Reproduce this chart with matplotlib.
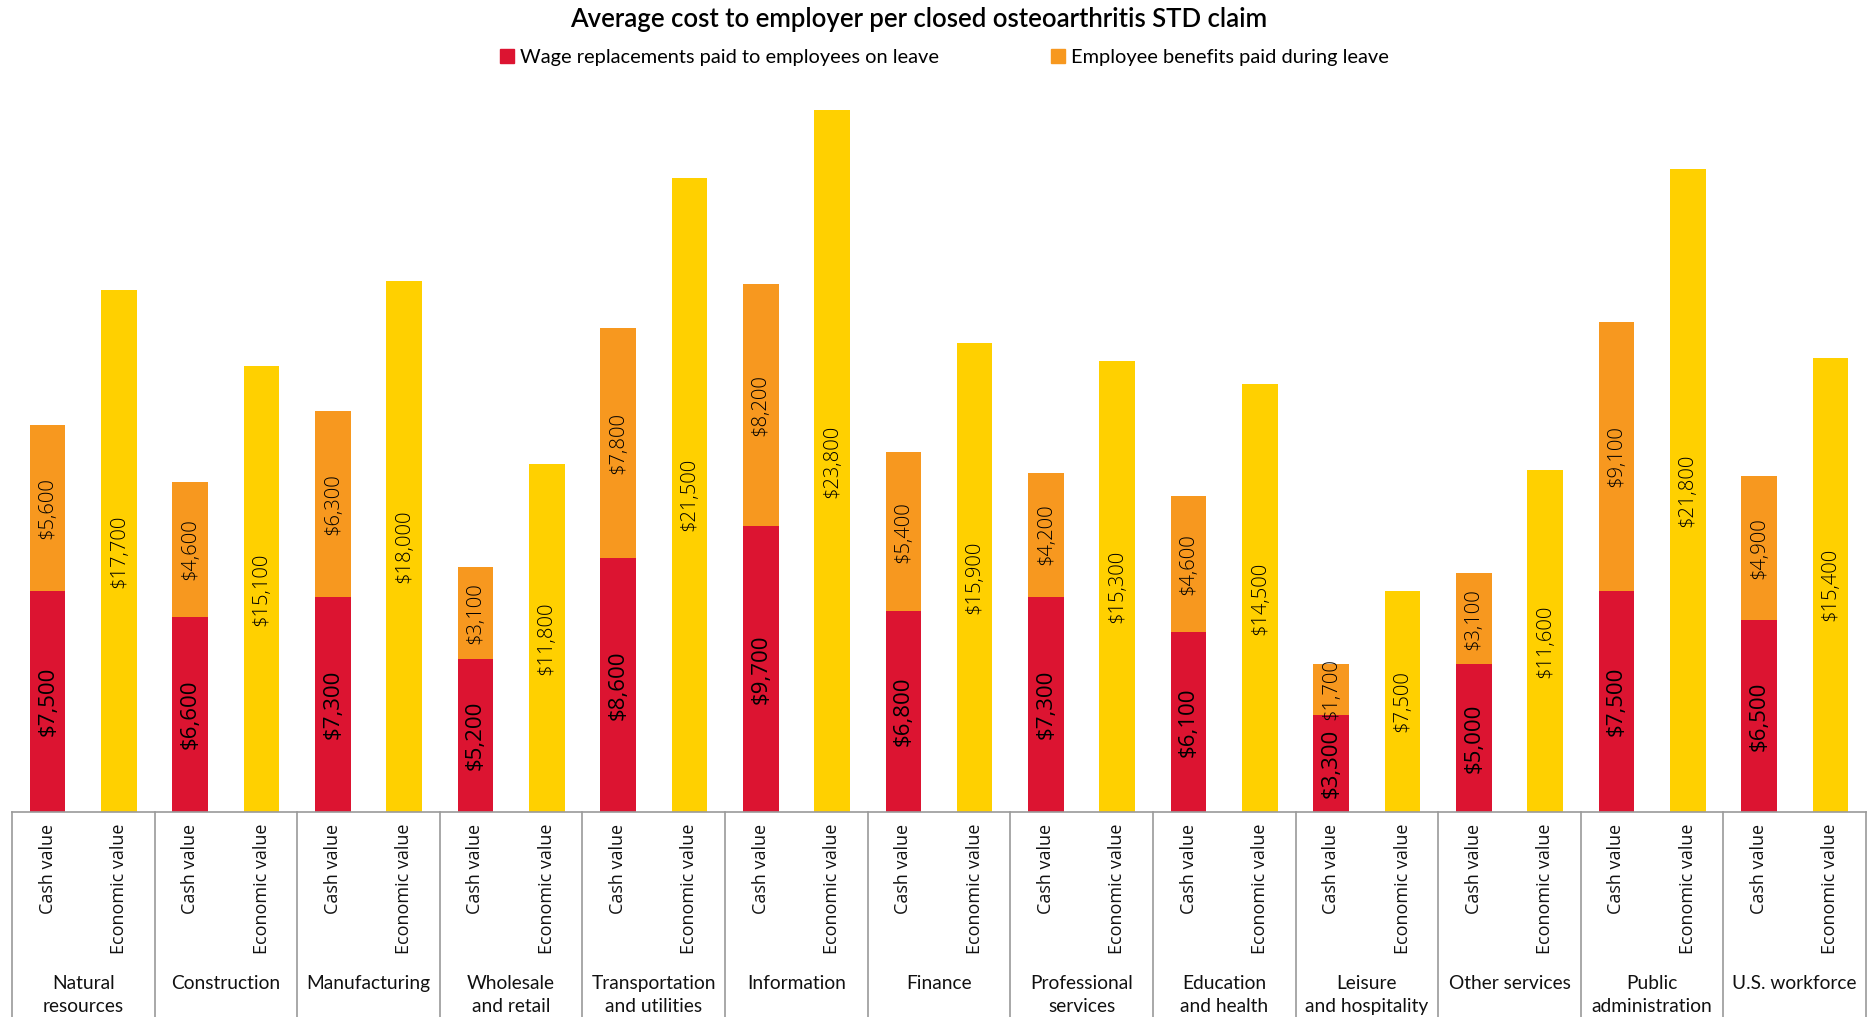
import matplotlib
matplotlib.use("Agg")
import matplotlib.pyplot as plt
from matplotlib.patches import Patch
from matplotlib import transforms

# valores
grupos = ["Natural\nresources", "Construction", "Manufacturing", "Wholesale\nand retail",
          "Transportation\nand utilities", "Information", "Finance", "Professional\nservices",
          "Education\nand health", "Leisure\nand hospitality", "Other services",
          "Public\nadministration", "U.S. workforce"]
salario = [7500, 6600, 7300, 5200, 8600, 9700, 6800, 7300, 6100, 3300, 5000, 7500, 6500]
beneficios = [5600, 4600, 6300, 3100, 7800, 8200, 5400, 4200, 4600, 1700, 3100, 9100, 4900]
economico = [17700, 15100, 18000, 11800, 21500, 23800, 15900, 15300, 14500, 7500, 11600, 21800, 15400]
rotulos_barra = ["Cash value", "Economic value"]

VERMELHO = "#DC1431"
LARANJA = "#F7981F"
AMARELO = "#FFD000"
CINZA = "#9a9a9a"

fig = plt.figure(figsize=(18.71, 10.17), dpi=100)
ax = fig.add_axes([12/1871, 205/1017, 1854/1871, 717/1017])

n = len(grupos)
x_cash = [i - 0.25 for i in range(n)]
x_eco = [i + 0.25 for i in range(n)]
larg = 0.25

ax.bar(x_cash, salario, width=larg, color=VERMELHO)
ax.bar(x_cash, beneficios, width=larg, bottom=salario, color=LARANJA)
ax.bar(x_eco, economico, width=larg, color=AMARELO)

fonte_num = "Open Sans"
for i in range(n):
    ax.text(x_cash[i], salario[i] / 2, f"${salario[i]:,}", rotation=90, ha="center", va="center",
            fontsize=16, family=fonte_num, color="#000000")
    ax.text(x_cash[i], salario[i] + beneficios[i] / 2, f"${beneficios[i]:,}", rotation=90,
            ha="center", va="center", fontsize=14.5, family=fonte_num, fontweight="light",
            color="#000000")
    ax.text(x_eco[i], economico[i] / 2, f"${economico[i]:,}", rotation=90, ha="center",
            va="center", fontsize=14.5, family=fonte_num, fontweight="light", color="#000000")

ax.set_xlim(-0.5, n - 0.5)
ax.set_ylim(0, 24300)
ax.set_yticks([])
ax.set_xticks([])
for lado in ["top", "right", "left"]:
    ax.spines[lado].set_visible(False)
ax.spines["bottom"].set_color(CINZA)
ax.spines["bottom"].set_linewidth(1.2)

trans = transforms.blended_transform_factory(ax.transData, ax.transAxes)
fundo = -205 / 717
for k in range(n + 1):
    ax.plot([k - 0.5, k - 0.5], [0, fundo], transform=trans, color=CINZA, lw=1.2, clip_on=False)

for i in range(n):
    for xx, rot in zip([x_cash[i], x_eco[i]], rotulos_barra):
        ax.text(xx, -12 / 717, rot, transform=trans, rotation=90, ha="center", va="top",
                fontsize=13, family=fonte_num, color="#111111")
    ax.text(i, -163 / 717, grupos[i], transform=trans, ha="center", va="top",
            fontsize=13.8, family="Lato", color="#111111", linespacing=1.4)

fig.text(919 / 1871, 1 - 19 / 1017, "Average cost to employer per closed osteoarthritis STD claim",
         ha="center", va="center", fontsize=18.5, family="Lato", fontweight="semibold")

handles = [Patch(color=VERMELHO), Patch(color=LARANJA)]
fig.legend(handles, ["Wage replacements paid to employees on leave", "Employee benefits paid during leave"],
           loc="center", bbox_to_anchor=(944 / 1871, 1 - 57 / 1017), ncol=2, frameon=False,
           handlelength=0.7, handleheight=0.7, handletextpad=0.3, columnspacing=5.6,
           prop={"family": "Lato", "size": 14.4})

fig.savefig("out.png", dpi=100)
